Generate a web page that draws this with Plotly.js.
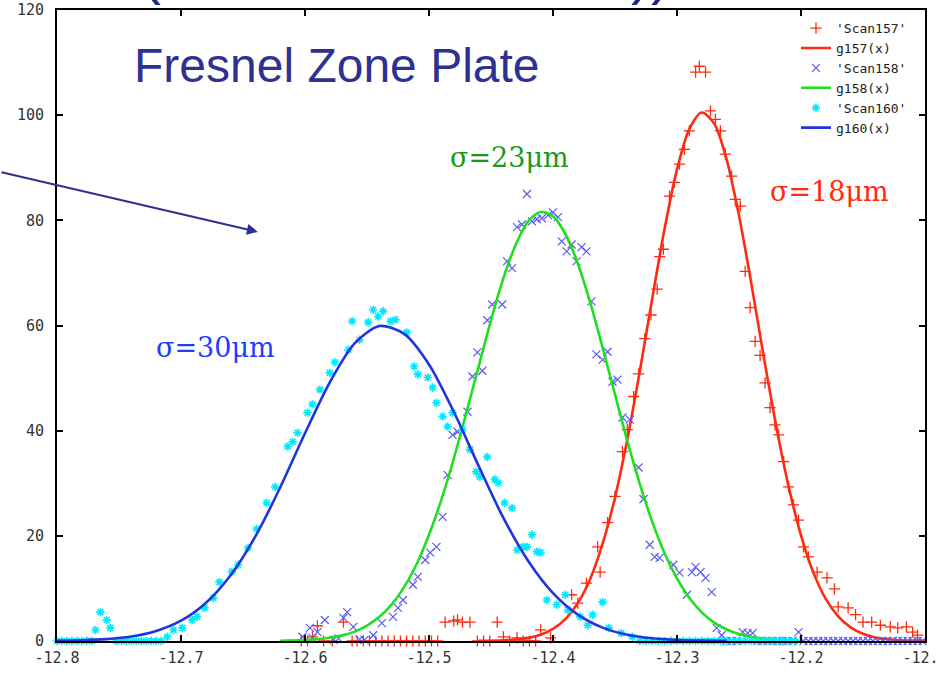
<!DOCTYPE html>
<html>
<head>
<meta charset="utf-8">
<script src="https://cdn.plot.ly/plotly-3.0.1.min.js"></script>
<style>html,body{margin:0;padding:0;background:#fff;}#chart{width:939px;height:674px;}</style>
</head>
<body>
<div id="chart"></div>
<script>
// ---- Scan157 (red +) ----
const scan157X = [-12.603,-12.598,-12.594,-12.590,-12.585,-12.578,-12.569,-12.562,-12.558,-12.553,-12.548,-12.543,-12.538,-12.533,-12.528,-12.523,-12.518,-12.513,-12.508,-12.503,-12.498,-12.493,
  -12.487,-12.480,-12.477,-12.473,-12.467,-12.461,-12.456,-12.451,-12.445,-12.440,-12.435,-12.429,-12.424,-12.419,-12.414,-12.410,-12.402,
  -12.385,-12.380,-12.373,-12.364,-12.362,-12.356,-12.350,-12.344,-12.340,-12.335,-12.331,-12.326,-12.321,
  -12.316,-12.314,-12.311,-12.306,-12.302,-12.298,-12.294,-12.290,-12.285,-12.282,-12.277,-12.273,-12.269,-12.265,-12.261,-12.256,-12.253,-12.249,-12.245,
  -12.241,-12.237,-12.233,-12.229,-12.225,-12.221,-12.218,-12.214,-12.210,-12.206,-12.202,-12.198,-12.194,-12.187,-12.179,-12.173,-12.170,-12.162,-12.156,
  -12.150,-12.143,-12.136,-12.128,-12.122,-12.115,-12.110,-12.106];
const scan157Y = [0,0,0.8,2.9,0,0,3.6,0,0,0,0,0,0,0,0,0,0,0,0,0,0,0,
  3.6,3.8,4.0,3.6,3.6,0,0,0,3.6,0.8,0,0.6,0,0,0,2.1,0.6,
  8.8,7.2,11.0,17.9,13.1,22.5,27.5,36.0,40.2,46.5,50.8,57.5,62.0,
  66.9,73.1,74.5,84.6,87.2,90.7,93.5,97.0,108.2,109.3,108.2,100.8,99.2,97.0,92.6,88.4,84.0,82.7,70.3,
  63.4,57.0,54.3,49.1,44.4,41.1,39.2,34.1,29.3,25.9,23.0,17.9,16.0,13.1,12.0,9.9,6.5,6.3,5.0,
  3.6,3.6,3.0,2.7,2.5,2.7,1.7,1.1];

// ---- g157(x) fit (red line) ----
const g157X = [-12.46,-12.44,-12.42,-12.41,-12.40,-12.39,-12.38,-12.37,-12.36,-12.35,-12.34,-12.33,-12.32,-12.31,-12.30,-12.29,-12.28,-12.27,-12.26,-12.25,-12.24,-12.23,-12.22,-12.21,-12.20,-12.19,-12.18,-12.17,-12.16,-12.15,-12.14,-12.12,-12.10];
const g157Y = [0.02,0.12,0.59,1.19,2.29,4.17,7.2,11.8,18.5,27.3,38.4,51.3,65.1,78.4,89.7,97.4,100.5,98.4,91.6,80.9,67.9,54.0,40.9,29.4,20.1,13.0,8.0,4.68,2.6,1.37,0.68,0.15,0.03];

// ---- Scan158 (blue x) ----
const scan158X = [-12.602,-12.596,-12.594,-12.590,-12.584,-12.577,-12.573,-12.569,-12.566,-12.561,-12.556,-12.552,-12.545,-12.538,-12.529,-12.525,-12.521,-12.513,-12.509,-12.503,-12.499,-12.494,
  -12.489,-12.485,-12.481,-12.477,-12.469,-12.465,-12.461,-12.457,-12.453,-12.449,-12.441,-12.437,-12.433,-12.429,-12.425,-12.421,-12.417,-12.413,-12.409,-12.404,-12.400,
  -12.396,-12.393,-12.389,-12.385,-12.381,-12.377,-12.373,-12.369,-12.365,-12.360,-12.356,-12.352,-12.348,-12.344,-12.338,-12.331,-12.327,
  -12.322,-12.318,-12.314,-12.303,-12.298,-12.292,-12.288,-12.285,-12.281,-12.277,-12.272,-12.268,-12.264,-12.260,-12.256,-12.252,-12.247,-12.243,-12.239,-12.235,-12.231,-12.227,-12.223,-12.219,-12.215,-12.211,-12.207,-12.202,
  -12.198,-12.194,-12.190,-12.186,-12.182,-12.178,-12.174,-12.170,-12.166,-12.162,-12.158,-12.154,-12.150,-12.146,-12.142,-12.138,-12.134,-12.130,-12.126,-12.122,-12.118,-12.114,-12.110,-12.106,-12.102];
const scan158Y = [0.8,2.5,0.6,1.7,4.0,0.2,0.5,4.4,5.5,2.7,0.3,0.2,1.1,3.4,4.6,6.3,7.8,10.7,12.2,15.4,16.8,17.9,
  23.6,31.6,39.2,39.8,43.6,50.3,54.9,51.4,61.0,64.0,64.0,72.2,70.9,78.7,79.2,85.0,79.8,80.2,80.4,81.0,81.5,
  80.6,76.0,74.1,75.4,72.2,74.9,74.1,64.6,54.5,53.5,55.0,49.3,49.7,42.5,42.1,33.0,27.0,
  18.3,16.0,15.8,14.5,13.0,8.8,13.1,14.1,13.1,12.0,9.3,2.5,1.1,0,0,0,1.7,1.5,1.5,0,0,0,0,0,0,0,0,1.7,
  0,0,0,0,0,0,0,0,0,0,0,0,0,0,0,0,0,0,0,0,0,0,0,0,0];

// ---- g158(x) fit (green line) ----
const g158X = [-12.62,-12.60,-12.58,-12.57,-12.56,-12.55,-12.54,-12.53,-12.52,-12.51,-12.50,-12.49,-12.48,-12.47,-12.46,-12.45,-12.44,-12.43,-12.42,-12.41,-12.40,-12.39,-12.38,-12.37,-12.36,-12.35,-12.34,-12.33,-12.32,-12.31,-12.30,-12.29,-12.28,-12.27,-12.26,-12.25,-12.24,-12.22,-12.20];
const g158Y = [0.05,0.18,0.61,1.07,1.79,2.92,4.59,6.98,10.3,14.6,20.2,26.9,34.7,43.3,52.2,61.0,69.0,75.4,79.8,81.6,80.8,77.4,71.8,64.4,55.8,46.9,38.0,29.9,22.7,16.7,11.9,8.18,5.45,3.5,2.19,1.32,0.77,0.24,0.06];

// ---- Scan160 (cyan *) ----
const scan160X = [-12.800,-12.796,-12.792,-12.788,-12.784,-12.780,-12.776,-12.772,-12.769,-12.765,-12.760,-12.757,-12.752,-12.748,-12.744,-12.740,-12.736,-12.732,-12.728,-12.724,-12.720,-12.716,
  -12.711,-12.706,-12.699,-12.691,-12.687,-12.681,-12.674,-12.669,-12.659,-12.654,-12.646,-12.639,-12.631,-12.624,-12.614,-12.610,-12.606,-12.598,-12.594,-12.588,-12.580,-12.576,
  -12.565,-12.562,-12.556,-12.549,-12.545,-12.541,-12.537,-12.531,-12.527,-12.518,-12.512,-12.509,-12.501,-12.497,-12.494,-12.489,-12.485,-12.481,-12.473,-12.467,-12.462,-12.459,
  -12.453,-12.447,-12.444,-12.439,-12.433,-12.429,-12.424,-12.421,-12.417,-12.413,-12.410,-12.405,-12.397,-12.390,-12.388,-12.378,-12.372,-12.368,-12.360,-12.355,-12.345,-12.336,
  -12.330,-12.325,-12.320,-12.315,-12.310,-12.305,-12.300,-12.295,-12.290,-12.285,-12.280,-12.275,-12.270,-12.265,-12.260,-12.255,-12.250,-12.245,-12.240,-12.235,-12.230,-12.225,-12.220,-12.215,-12.210,-12.205];
const scan160Y = [0,0,0,0,0,0,0,0,2.1,5.5,4.0,2.5,0,0,0,0,0,0,0,0,0,0,
  0.8,2.1,2.5,4.0,4.6,6.3,8.2,11.2,13.2,14.5,17.7,21.3,26.3,29.3,37.0,37.9,39.6,43.4,45.0,47.8,51.0,53.0,
  55.4,60.8,57.3,60.6,63.0,61.7,62.7,60.8,61.1,58.7,52.2,50.7,50.1,48.2,45.3,42.7,40.8,43.4,40.2,36.4,32.2,31.2,
  35.0,30.7,30.1,26.3,25.3,17.3,17.9,17.9,20.2,17.0,16.8,7.8,6.9,8.8,5.9,4.6,3.0,5.0,7.4,2.5,1.5,0.8,
  0,0,0,0,0,0,0,0,0,0,0,0,0,0,0,0,0,0,0,0,0,0,0,0,0,0];

// ---- g160(x) fit (blue line) ----
const g160X = [-12.80,-12.78,-12.76,-12.74,-12.72,-12.70,-12.68,-12.66,-12.64,-12.62,-12.60,-12.58,-12.56,-12.54,-12.52,-12.50,-12.48,-12.46,-12.44,-12.42,-12.40,-12.38,-12.36,-12.34,-12.32,-12.30,-12.28,-12.26];
const g160Y = [0.05,0.14,0.36,0.86,1.90,3.86,7.23,12.5,19.9,29.2,39.5,49.2,56.6,59.9,58.4,52.6,43.6,33.3,23.4,15.2,9.09,5.01,2.54,1.19,0.51,0.20,0.08,0.03];

// ---- axes / labels ----
const xTickVals = [-12.8,-12.7,-12.6,-12.5,-12.4,-12.3,-12.2,-12.1];
const xTickText = ['-12.8','-12.7','-12.6','-12.5','-12.4','-12.3','-12.2','-12.1'];
const yTickVals = [0,20,40,60,80,100,120];
const seriesNames = ["'Scan157'","g157(x)","'Scan158'","g158(x)","'Scan160'","g160(x)"];

const lineW = 2.6;
const traces = [
  {x: scan157X, y: scan157Y, name: seriesNames[0], type: 'scatter', mode: 'markers', cliponaxis: false,
   marker: {symbol: 'cross-thin-open', size: 8, color: '#ff2a10', line: {color: '#ff2a10', width: 1.3}}},
  {x: g157X, y: g157Y, name: seriesNames[1], type: 'scatter', mode: 'lines',
   line: {color: '#ff2a10', width: lineW, shape: 'spline', smoothing: 0.8}},
  {x: scan158X, y: scan158Y, name: seriesNames[2], type: 'scatter', mode: 'markers', cliponaxis: false,
   marker: {symbol: 'x-thin-open', size: 8, color: '#5a5af5', line: {color: '#5a5af5', width: 1.2}}},
  {x: g158X, y: g158Y, name: seriesNames[3], type: 'scatter', mode: 'lines',
   line: {color: '#1ee01e', width: lineW, shape: 'spline', smoothing: 0.8}},
  {x: scan160X, y: scan160Y, name: seriesNames[4], type: 'scatter', mode: 'markers', cliponaxis: false,
   marker: {symbol: 'asterisk-open', size: 7, color: '#00e8ff', line: {color: '#00e8ff', width: 1.6}}},
  {x: g160X, y: g160Y, name: seriesNames[5], type: 'scatter', mode: 'lines',
   line: {color: '#1f35e0', width: lineW, shape: 'spline', smoothing: 0.8}}
];

const tickFont = {family: 'DejaVu Sans Mono, monospace', size: 15, color: '#333'};
const navy = '#2e3192';

const layout = {
  width: 939, height: 674,
  margin: {l: 57, r: 14, t: 10, b: 33, pad: 0},
  paper_bgcolor: '#ffffff', plot_bgcolor: '#ffffff',
  showlegend: true,
  legend: {x: 0.985, xanchor: 'right', y: 0.995, yanchor: 'top', bgcolor: 'rgba(255,255,255,0)',
           font: {family: 'DejaVu Sans Mono, monospace', size: 13, color: '#222'}, tracegroupgap: 0, itemwidth: 30},
  xaxis: {range: [-12.8, -12.1], tickvals: xTickVals, ticktext: xTickText, ticks: 'inside', ticklen: 6, tickwidth: 2,
          tickcolor: '#000', showline: true, linecolor: '#000', linewidth: 2, mirror: 'ticks', showgrid: false,
          zeroline: false, tickfont: tickFont, fixedrange: true, ticklabeloverflow: 'allow', ticklabelstandoff: 2},
  yaxis: {range: [0, 120], tickvals: yTickVals, ticks: 'inside', ticklen: 6, tickwidth: 2,
          tickcolor: '#000', showline: true, linecolor: '#000', linewidth: 2, mirror: 'ticks', showgrid: false,
          zeroline: false, tickfont: tickFont, fixedrange: true, ticklabeloverflow: 'allow', ticklabelstandoff: 8},
  annotations: [
    {x: -12.574, y: 109.4, xref: 'x', yref: 'y', text: 'Fresnel Zone Plate', showarrow: false,
     font: {family: 'Liberation Sans, Arial, sans-serif', size: 48, color: navy}},
    {x: -12.435, y: 92.0, xref: 'x', yref: 'y', text: 'σ=23μm', showarrow: false,
     font: {family: 'DejaVu Serif, serif', size: 27, color: '#1a9a1a'}},
    {x: -12.177, y: 85.4, xref: 'x', yref: 'y', text: 'σ=18μm', showarrow: false,
     font: {family: 'DejaVu Serif, serif', size: 27, color: '#ff2a10'}},
    {x: -12.672, y: 55.9, xref: 'x', yref: 'y', text: 'σ=30μm', showarrow: false,
     font: {family: 'DejaVu Serif, serif', size: 27, color: '#1f3cff'}},
    {x: -12.638, y: 77.8, xref: 'x', yref: 'y', text: '', showarrow: true, axref: 'pixel', ayref: 'pixel',
     ax: -258, ay: -60, arrowhead: 2, arrowsize: 1.1, arrowwidth: 2, arrowcolor: navy, standoff: 0},
    {x: 0.095, y: 1.003, xref: 'paper', yref: 'paper', yanchor: 'bottom', text: '(', showarrow: false,
     font: {family: 'Liberation Sans, Arial, sans-serif', size: 60, color: '#1f2a78'}},
    {x: 0.71, y: 1.003, xref: 'paper', yref: 'paper', yanchor: 'bottom', text: '))', showarrow: false,
     font: {family: 'Liberation Sans, Arial, sans-serif', size: 60, color: '#1f2a78'}}
  ]
};

Plotly.newPlot('chart', traces, layout, {staticPlot: true, displayModeBar: false});
</script>
</body>
</html>
